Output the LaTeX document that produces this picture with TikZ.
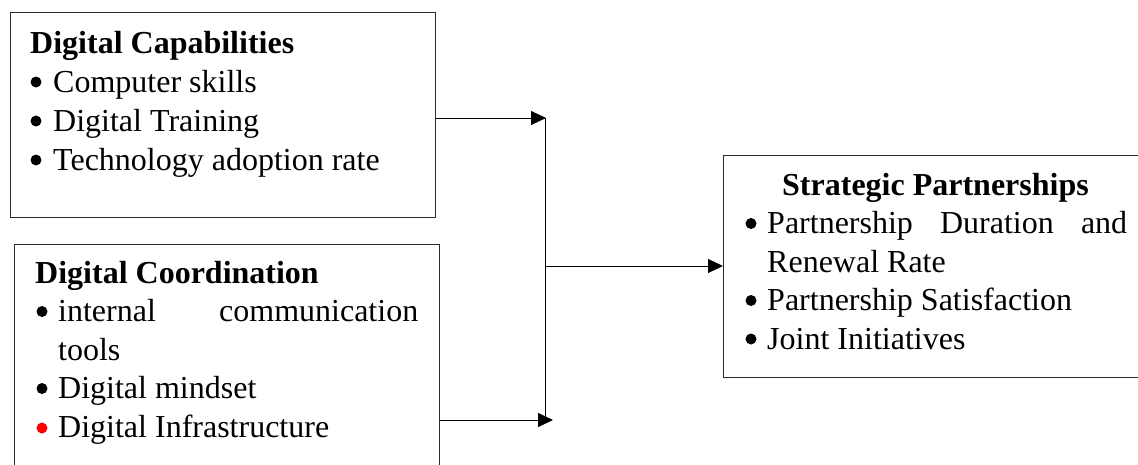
\documentclass[tikz,border=0pt]{standalone}
\usepackage{fontspec}
\setmainfont{Liberation Serif}
\usepackage{xcolor}
\usepackage{tikz}
\usetikzlibrary{arrows.meta}
\definecolor{boxline}{HTML}{2B2B2B}

\begin{document}
\begin{tikzpicture}[x=1pt,y=-1pt,
    font=\fontsize{32}{38}\selectfont,
    framebox/.style={draw=boxline,line width=1.4pt,inner sep=0pt,
      anchor=north west},
    heading/.style={font=\fontsize{32}{38}\selectfont\bfseries,
      anchor=base west,inner sep=0pt},
    itemtext/.style={anchor=base west,inner sep=0pt},
    bulletdot/.style={circle,fill,inner sep=0pt,minimum size=11pt},
    flow/.style={line width=1pt,-{Triangle[length=15pt,width=14pt]}}
  ]
    \useasboundingbox (0,0) rectangle (1138,464);
    % the three boxes
    \node[framebox,minimum width=425pt,minimum height=205pt] (capab) at (10,12) {};
    \node[framebox,minimum width=425pt,minimum height=260pt] (coord) at (14,244) {};
    \node[framebox,minimum width=440pt,minimum height=222pt] (partner) at (723,155) {};
    % digital capabilities
    \node[heading] (capabhead) at (30,53) {Digital Capabilities};
    \foreach \y/\txt [count=\i] in {92/Computer skills,131/Digital Training,
        170/Technology adoption rate} {
      \node[bulletdot] (capabbul\i) at (36,{\y-10}) {};
      \node[itemtext] (capabitem\i) at (53,\y) {\txt};
    }
    % digital coordination
    \node[heading] (coordhead) at (35,283) {Digital Coordination};
    \node[bulletdot] (coordbul1) at (42,311.5) {};
    \node[itemtext,text width=360pt] (coorditem1) at (58,321.5)
      {internal\hfill communication};
    \node[itemtext] (coorditem1b) at (58,360) {tools};
    \node[bulletdot] (coordbul2) at (42,388.5) {};
    \node[itemtext] (coorditem2) at (58,398.5) {Digital mindset};
    \node[bulletdot,fill=red] (coordbul3) at (42,428) {};
    \node[itemtext] (coorditem3) at (58,437) {Digital Infrastructure};
    % strategic partnerships
    \node[heading,anchor=base] (partnerhead) at (935.5,195) {Strategic Partnerships};
    \node[bulletdot] (partnerbul1) at (751,223.5) {};
    \node[itemtext,text width=360pt] (partneritem1) at (767,233.5)
      {Partnership\hfill Duration\hfill and};
    \node[itemtext] (partneritem1b) at (767,272) {Renewal Rate};
    \foreach \y/\txt [count=\i from 2] in {310.5/Partnership Satisfaction,
        349/Joint Initiatives} {
      \node[bulletdot] (partnerbul\i) at (751,{\y-10}) {};
      \node[itemtext] (partneritem\i) at (767,\y) {\txt};
    }
    % connectors
    \coordinate (topend) at (546,118);
    \coordinate (botend) at (553,420);
    \coordinate (jointop) at (545,118);
    \coordinate (joinbot) at (545,420);
    \coordinate (joinmid) at (545,266);
    \draw[flow] (capab.east |- topend) -- (topend);
    \draw[flow] (coord.east |- botend) -- (botend);
    \draw[line width=1pt] (jointop) -- (joinbot);
    \draw[flow] (joinmid) -- (partner.west |- joinmid);
  \end{tikzpicture}
\end{document}
